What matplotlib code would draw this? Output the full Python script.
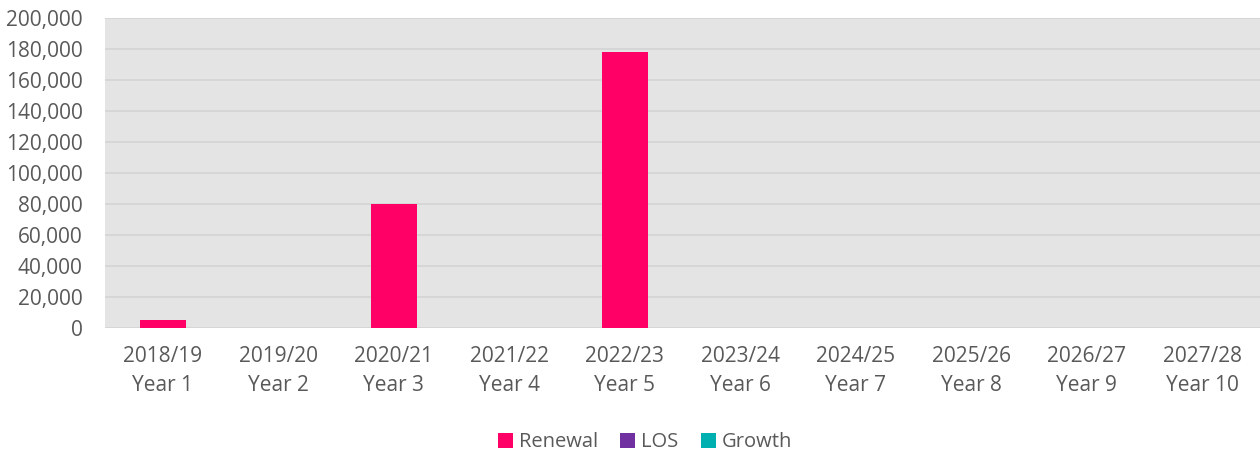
import matplotlib
matplotlib.use("Agg")
import matplotlib.pyplot as plt
import matplotlib.ticker as mticker
import numpy as np

plt.rcParams['font.family'] = ['Open Sans', 'DejaVu Sans']

years = ['2018/19', '2019/20', '2020/21', '2021/22', '2022/23',
         '2023/24', '2024/25', '2025/26', '2026/27', '2027/28']
labels = [f'{y}\nYear {i + 1}' for i, y in enumerate(years)]
renewal = [5000, 0, 80000, 0, 178000, 0, 0, 0, 0, 0]
los = [0] * 10
growth = [0] * 10

fig = plt.figure(figsize=(12.6, 4.54), dpi=100)
ax = fig.add_axes([0.0833, 0.2775, 0.9167, 0.6825])
ax.set_facecolor('#E4E4E4')

x = np.arange(len(labels))
w = 0.4
ax.bar(x, renewal, w, color='#FF0066', label='Renewal', zorder=3)
ax.bar(x, los, w, bottom=renewal, color='#7030A0', label='LOS', zorder=3)
ax.bar(x, growth, w, bottom=np.add(renewal, los), color='#00B0B0',
       label='Growth', zorder=3)

ax.set_xlim(-0.5, 9.5)
ax.set_ylim(0, 200000)
ax.set_yticks(range(0, 200001, 20000))
ax.yaxis.set_major_formatter(mticker.FuncFormatter(lambda v, p: f'{int(v):,}'))
ax.grid(axis='y', color='#D4D4D4', linewidth=1.2, zorder=0)
ax.set_xticks(x)
ax.set_xticklabels(labels, linespacing=1.5)
for s in ax.spines.values():
    s.set_visible(False)
ax.tick_params(length=0, colors='#595959', labelsize=15)
ax.tick_params(axis='x', pad=13)
ax.tick_params(axis='y', pad=16)

fig.legend(loc='center', bbox_to_anchor=(0.512, 0.026), ncol=3, frameon=False,
           fontsize=14.5, labelcolor='#595959', handlelength=0.75,
           handleheight=0.75, handletextpad=0.3, columnspacing=1.1)

fig.savefig('out.png', dpi=100)
